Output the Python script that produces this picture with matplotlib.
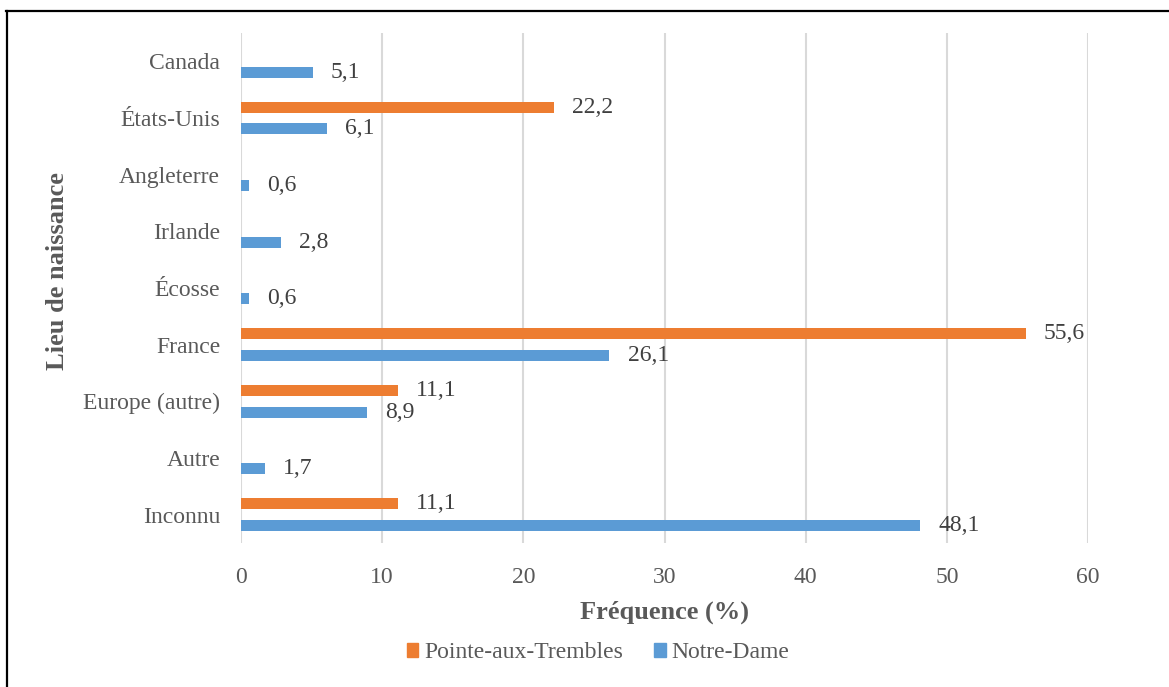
import numpy as np
import matplotlib
matplotlib.use("Agg")
import matplotlib.pyplot as plt
from matplotlib.patches import Patch
from matplotlib.lines import Line2D

# Birthplace categories, listed top to bottom
categories = ["Canada", "États-Unis", "Angleterre", "Irlande", "Écosse",
              "France", "Europe (autre)", "Autre", "Inconnu"]
# Frequencies (%) per parish; NaN = no record for that place
pointe_aux_trembles = [np.nan, 22.2, np.nan, np.nan, np.nan, 55.6, 11.1, np.nan, 11.1]
notre_dame = [5.1, 6.1, 0.6, 2.8, 0.6, 26.1, 8.9, 1.7, 48.1]
x_ticks = [0, 10, 20, 30, 40, 50, 60]

ORANGE = "#ED7D31"
BLUE = "#5B9BD5"
TXT = "#595959"
LBL = "#404040"
FONT = "Liberation Serif"

plt.rcParams["font.family"] = FONT

W, H = 1169, 687
fig = plt.figure(figsize=(W / 100, H / 100), dpi=100)
ax = fig.add_axes([241 / W, 1 - 543 / H, (1088 - 241) / W, (543 - 33) / H])

n = len(categories)
y = np.arange(n)[::-1].astype(float)
off = 0.19
h = 0.195

ax.barh(y + off, pointe_aux_trembles, height=h, color=ORANGE, zorder=3,
        label="Pointe-aux-Trembles")
ax.barh(y - off, notre_dame, height=h, color=BLUE, zorder=3, label="Notre-Dame")


def fmt(v):
    return f"{v:.1f}".replace(".", ",")


for yy, v in zip(y + off, pointe_aux_trembles):
    if not np.isnan(v):
        ax.annotate(fmt(v), (v, yy), xytext=(13, 0), textcoords="offset points",
                    ha="left", va="center", fontsize=17, color=LBL)
for yy, v in zip(y - off, notre_dame):
    if not np.isnan(v):
        ax.annotate(fmt(v), (v, yy), xytext=(13, 0), textcoords="offset points",
                    ha="left", va="center", fontsize=17, color=LBL)

ax.set_xlim(0, 60)
ax.set_ylim(-0.5, n - 0.5)
ax.set_xticks(x_ticks)
ax.set_xticklabels([str(t) for t in x_ticks])
ax.set_yticks(y)
ax.set_yticklabels(categories)
ax.tick_params(axis="both", length=0, labelsize=17, labelcolor=TXT)
ax.tick_params(axis="x", pad=17)
ax.tick_params(axis="y", pad=15)
ax.grid(axis="x", color="#D9D9D9", linewidth=1.5, zorder=0)
ax.set_axisbelow(True)
for s in ax.spines.values():
    s.set_visible(False)

fig.text(664 / W, 1 - 612 / H, "Fréquence (%)", ha="center", va="center",
         fontsize=19, fontweight="bold", color=TXT)
fig.text(58 / W, 1 - 271 / H, "Lieu de naissance", ha="center", va="center",
         rotation=90, fontsize=19, fontweight="bold", color=TXT)

handles = [Patch(color=ORANGE), Patch(color=BLUE)]
fig.legend(handles, ["Pointe-aux-Trembles", "Notre-Dame"], loc="center",
           bbox_to_anchor=(598 / W, 1 - 653 / H), ncol=2, frameon=False,
           fontsize=17, labelcolor=TXT, handlelength=0.5, handleheight=0.5,
           handletextpad=0.25, columnspacing=1.3)

# Frame edges along the top and left
fig.add_artist(Line2D([6, W], [H - 11, H - 11], transform=None, color="black", lw=1.6))
fig.add_artist(Line2D([7, 7], [0, H - 11], transform=None, color="black", lw=1.6))

fig.savefig("out.png", dpi=100, facecolor="white")
